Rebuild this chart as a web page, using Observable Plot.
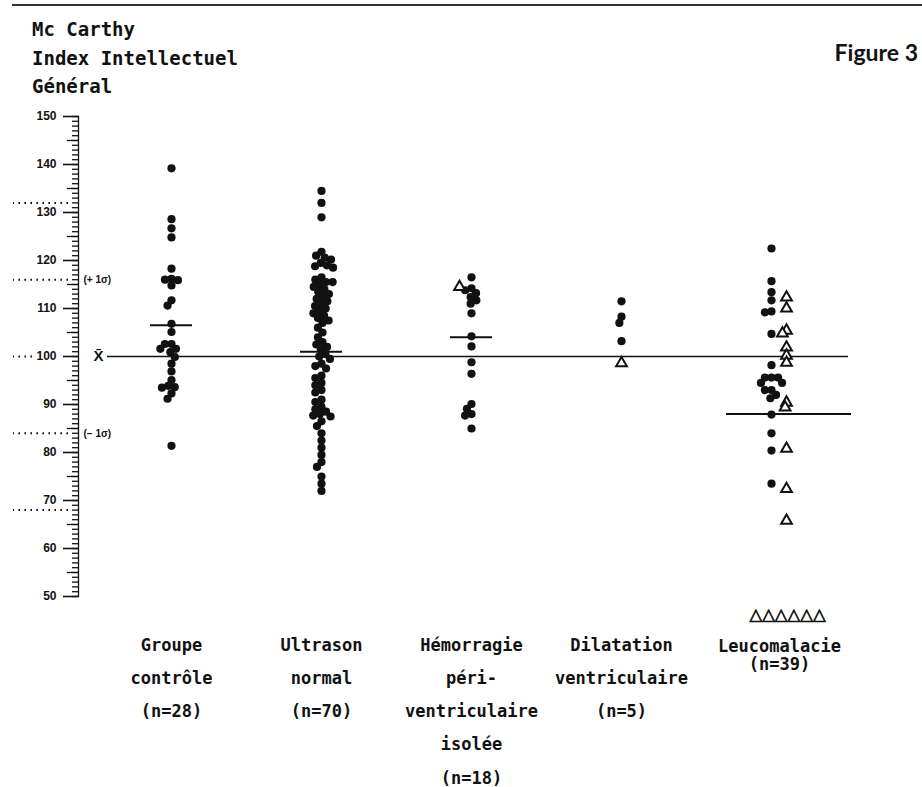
<!DOCTYPE html>
<html><head><meta charset="utf-8">
<script src="https://cdn.jsdelivr.net/npm/d3@7"></script>
<script src="https://cdn.jsdelivr.net/npm/@observablehq/plot@0.6"></script>
<style>
body{margin:0;background:#fff;}
#wrap{position:relative;width:922px;height:787px;overflow:hidden;background:#fff}
.rule{position:absolute;left:12px;right:0;top:4px;border-top:2px solid #333}
.title{position:absolute;left:32px;top:15px;font:bold 19px "DejaVu Sans Mono";line-height:28.5px;color:#111;white-space:pre}
.fig{position:absolute;right:4px;top:38px;font:bold 23px Lato;color:#111}
#chart{position:absolute;left:0;top:0}
</style></head><body>
<div id="wrap">
<div id="chart"></div>
<div class="rule"></div>
<div class="title">Mc Carthy
Index Intellectuel
Général</div>
<div class="fig">Figure 3</div>
</div>
<script>
// ---- data ----
const groups = ["Groupe contrôle", "Ultrason normal", "Hémorragie péri-ventriculaire isolée", "Dilatation ventriculaire", "Leucomalacie"];
const groupLabels = ["Groupe\ncontrôle\n(n=28)", "Ultrason\nnormal\n(n=70)", "Hémorragie\npéri-\nventriculaire\nisolée\n(n=18)", "Dilatation\nventriculaire\n(n=5)", "Leucomalacie\n(n=39)"];

const controleDots = [139.2, 128.6, 126.7, 124.8, 118.3, 116.2, 116, 115.9, 114.8, 111.7, 110.6, 106.8, 105.1, 102.6, 102.6, 101.6, 101.6, 100.9, 99.9, 98.5, 96.9, 95.1, 93.9, 93.6, 93.5, 92.3, 91.2, 81.4];
const ultrasonDots = [134.5, 132, 129, 121.8, 121, 120.6, 120.2, 119.5, 119, 118.8, 118.5, 116.5, 116, 115.5, 115.5, 115, 114.5, 114, 113.5, 113, 112.5, 112, 111.5, 111, 110.5, 110, 109.5, 109, 108.5, 108, 107.5, 107, 106, 105, 104, 103, 102.5, 102, 101.5, 100.5, 100, 99.5, 98.5, 98, 97.5, 96, 95.5, 94.5, 94, 93, 92.5, 91, 90.5, 89.5, 89, 88.5, 88, 87.7, 87.5, 86.5, 85.5, 84, 82.5, 81, 79.5, 78, 77, 75, 73.5, 72];
const hemorragieDots = [116.5, 114.2, 113.8, 113.2, 112.4, 111.7, 111, 109, 104.2, 102.1, 98.8, 96.4, 90.1, 89.1, 88, 87.7, 85];
const hemorragieTriangles = [114.5];
const dilatationDots = [111.5, 108.3, 107, 103.2];
const dilatationTriangles = [98.6];
const leucoDots = [122.5, 115.7, 113.4, 111.7, 109.4, 109.2, 104.7, 98.2, 95.6, 95.6, 95.6, 94.5, 94.5, 93, 93, 92, 91.3, 87.9, 84, 80.4, 73.5];
const leucoTriangles = [112.3, 110, 105.4, 104.8, 101.9, 100.2, 98.7, 90.4, 89.4, 80.8, 72.4, 65.8];
const leucoUntestable = 6;

const groupMeans = [106.5, 101, 104, null, 88];
const populationMean = 100;
const sigmaLines = [132, 116, 84, 68];
const sigmaLabels = ["(+ 1σ)", "(− 1σ)"];
const sigmaLabelValues = [116, 84];
const yMajorTicks = [50, 60, 70, 80, 90, 100, 110, 120, 130, 140, 150];
const yMidTicks = [55, 65, 75, 85, 95, 105, 115, 125, 135, 145];
const yMinorTicks = d3.range(50, 151, 1);

// ---- tables ----
const rowsOf = (vals, i) => vals.map(v => ({group: groups[i], value: v}));
const dotRows = [controleDots, ultrasonDots, hemorragieDots, dilatationDots, leucoDots].flatMap(rowsOf);
const meanRows = groupMeans.map((m, i) => ({group: groups[i], mean: m})).filter(d => d.mean != null);
const labelRows = groups.map((g, i) => ({group: g, label: groupLabels[i]}));
const sigmaRows = sigmaLabels.map((t, i) => ({t, v: sigmaLabelValues[i]}));

// centred beeswarm around each group's position on the x (point) scale
function swarm(options, {r = 3.8, padding = 0} = {}) {
  return Plot.initializer(options, (data, facets, channels, scales) => {
    const G = channels.x.value, V = channels.y.value;
    const n = V.length, D = 2 * r + padding;
    const bw = typeof scales.x.bandwidth === "function" ? scales.x.bandwidth() : (+scales.x.bandwidth || 0);
    const X = new Float64Array(n), Y = new Float64Array(n), O = new Float64Array(n);
    for (const I of facets) {
      for (const [g, idx] of d3.group(I, i => G[i])) {
        const cx = scales.x(g) + bw / 2;
        const placed = [];
        const order = Array.from(idx).sort((a, b) => V[b] - V[a]);
        for (const i of order) {
          const y = scales.y(V[i]);
          Y[i] = y;
          const cands = [0];
          for (const j of placed) {
            const dy = Y[j] - y;
            if (Math.abs(dy) < D) {
              const dx = Math.sqrt(D * D - dy * dy);
              cands.push(O[j] + dx, O[j] - dx);
            }
          }
          cands.sort((a, b) => Math.abs(a) - Math.abs(b) || a - b);
          let best = 0;
          for (const c of cands) {
            if (placed.every(j => { const ex = O[j] - c, ey = Y[j] - y; return ex * ex + ey * ey >= D * D - 1e-6; })) { best = c; break; }
          }
          O[i] = best;
          X[i] = cx + best;
          placed.push(i);
        }
      }
    }
    return {data, facets, channels: {x: {value: X}, y: {value: Y}}};
  });
}

const mono = "DejaVu Sans Mono";
const ink = "#111";
const chart = Plot.plot({
  width: 922, height: 787,
  marginTop: 116, marginBottom: 191, marginLeft: 78, marginRight: 58,
  x: {type: "point", domain: groups, padding: 0.62, axis: null, label: null},
  y: {domain: [50, 150], label: null},
  style: {background: "transparent", color: ink},
  marks: [
    // ruler-like y axis
    Plot.axisY(yMinorTicks, {tickSize: 6, fill: "none", label: null, strokeWidth: 1.3}),
    Plot.axisY(yMidTicks, {tickSize: 11, fill: "none", label: null, strokeWidth: 1.3}),
    Plot.axisY(yMajorTicks, {tickSize: 15, tickPadding: 7, label: null, strokeWidth: 1.6,
      fontSize: 12, fontWeight: "bold", fontFamily: "Liberation Sans"}),
    Plot.frame({anchor: "left", strokeWidth: 1.3}),
    // dotted reference lines in the margin
    Plot.axisY(sigmaLines, {tickSize: 55, dx: -10, fill: "none", label: null, strokeDasharray: "1.6,4.4", strokeWidth: 2}),
    Plot.axisY([populationMean], {tickSize: 19, dx: -46, fill: "none", label: null, strokeDasharray: "1.6,4.4", strokeWidth: 2}),
    Plot.text(sigmaRows, {y: "v", text: "t", frameAnchor: "left", dx: 5, textAnchor: "start",
      fontSize: 10, fontWeight: "bold", fontFamily: "Liberation Sans"}),
    Plot.text([populationMean], {y: d => d, text: () => "X\u0304", frameAnchor: "left", dx: 20,
      textAnchor: "middle", fontSize: 15, fontWeight: "bold", fontFamily: "Liberation Sans"}),
    // population mean line
    Plot.ruleY([populationMean], {insetLeft: 29, insetRight: 16, strokeWidth: 1.6}),
    // group means
    Plot.ruleY(meanRows.filter(d => d.group !== groups[4]), {x1: "group", x2: "group", y: "mean", insetLeft: -21, insetRight: -21, strokeWidth: 2}),
    Plot.ruleY(meanRows.filter(d => d.group === groups[4]), {x1: "group", x2: "group", y: "mean", insetLeft: -45, insetRight: -80, strokeWidth: 2}),
    // individual children
    Plot.dot(dotRows, swarm({x: "group", y: "value", r: 4.1, fill: ink, stroke: "none"}, {r: 4.1, padding: -1.6})),
    Plot.dot(rowsOf(hemorragieTriangles, 2), {x: "group", y: "value", symbol: "triangle", r: 4, dx: -12, fill: "white", stroke: ink, strokeWidth: 2}),
    Plot.dot(rowsOf(dilatationTriangles, 3), {x: "group", y: "value", symbol: "triangle", r: 4, fill: "white", stroke: ink, strokeWidth: 2}),
    Plot.dot(rowsOf(leucoTriangles, 4), swarm({x: "group", y: "value", symbol: "triangle", r: 4, dx: 15, fill: "white", stroke: ink, strokeWidth: 2}, {r: 4, padding: -3})),
    // untestable children shown below the axis
    Plot.text([leucoUntestable], {x: () => groups[4], text: n => "\u25B3".repeat(n), frameAnchor: "bottom", dy: 23, dx: 16,
      fontSize: 16.5, fontWeight: "bold", fontFamily: "DejaVu Sans", stroke: ink, strokeWidth: 0.7, fill: ink}),
    // group labels
    Plot.text(labelRows.filter(d => d.group !== groups[4]), {x: "group", text: "label", frameAnchor: "bottom", lineAnchor: "top",
      dy: 31, lineHeight: 1.95, fontSize: 17, fontWeight: "bold", fontFamily: mono}),
    Plot.text(labelRows.filter(d => d.group === groups[4]), {x: "group", text: "label", frameAnchor: "bottom", lineAnchor: "top",
      dy: 42, dx: 8, lineHeight: 1.1, fontSize: 17, fontWeight: "bold", fontFamily: mono})
  ]
});
document.getElementById("chart").appendChild(chart);
</script>
</body></html>
